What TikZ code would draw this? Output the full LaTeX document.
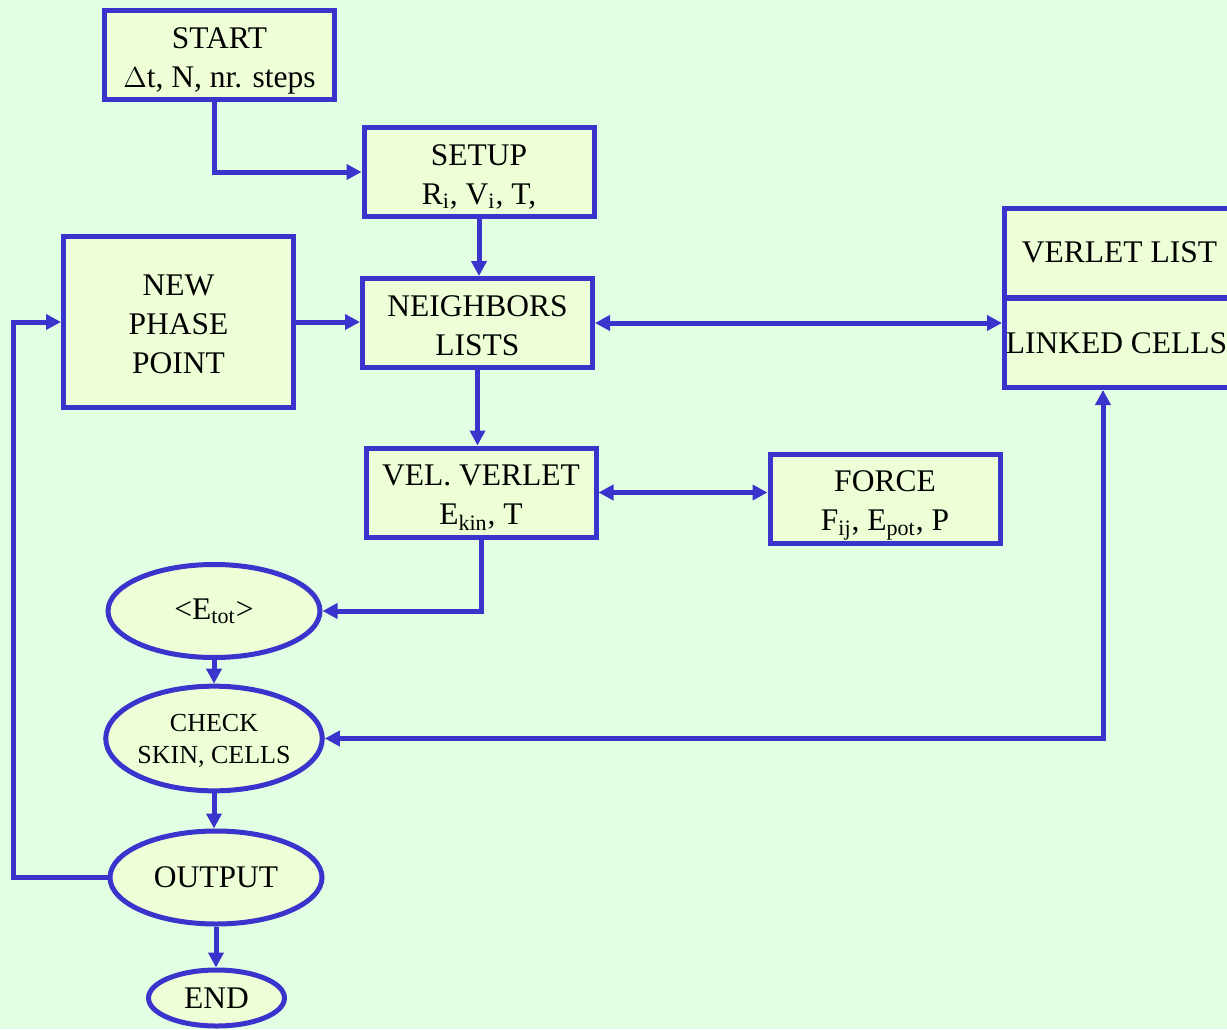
\documentclass[tikz,border=0pt]{standalone}
\usepackage{fontspec}
\setmainfont{Liberation Serif}
\usetikzlibrary{arrows.meta, shapes.geometric}

\definecolor{bgmint}{HTML}{E3FFE3}
\definecolor{boxfill}{HTML}{EEFFD8}
\definecolor{flowblue}{HTML}{3A33CC}
\newcommand{\lowidx}[1]{\textsubscript{#1}}
% struts to even out stacked lines
\newcommand{\topstrut}[1][18.8pt]{\rule{0pt}{#1}}
\newcommand{\botstrut}{\rule[-6pt]{0pt}{0pt}}

\begin{document}
\begin{tikzpicture}[
    x=0.5pt, y=-0.5pt,
    font=\fontsize{15.75}{19.5}\selectfont,
    % Box Styles
    box/.style={
        rectangle, draw=flowblue, fill=boxfill, line width=2.5pt,
        minimum width=115pt, minimum height=44.5pt, inner sep=0pt, align=center
    },
    oval/.style={
        ellipse, draw=flowblue, fill=boxfill, line width=2.5pt,
        minimum width=106pt, minimum height=46.5pt, inner sep=0pt, align=center
    },
    % Arrow Styles
    flow/.style={-{Triangle[length=7.5pt, width=7.5pt]}, line width=2.5pt, draw=flowblue},
    twoway/.style={{Triangle[length=7.5pt, width=7.5pt]}-{Triangle[length=7.5pt, width=7.5pt]}, line width=2.5pt, draw=flowblue}
]

    % --- PAGE ---
    \fill[bgmint] (0,0) rectangle (1227,1029);
    \useasboundingbox (0,0) rectangle (1227,1029);

    % --- BOXES ---
    \node[box] (start) at (219.5,55) {\topstrut START\\$\Delta$t, N, nr. steps\botstrut};
    \node[box] (setup) at (479,172) {\topstrut SETUP\\R\lowidx{i}, V\lowidx{i}, T,\botstrut};
    \node[box] (lists) at (477.5,323) {\topstrut NEIGHBORS\\LISTS\botstrut};
    \node[box, minimum height=85.5pt] (newpt) at (178.5,322) {\topstrut NEW\\PHASE\\POINT\botstrut};
    \node[box] (vel) at (481,492.5) {\topstrut VEL. VERLET\\E\lowidx{kin}, T\botstrut};
    \node[box] (force) at (885,498.5) {\topstrut FORCE\\F\lowidx{ij}, E\lowidx{pot}, P\botstrut};

    % Verlet list / linked cells (runs off the right edge)
    \node[box] (verlet) at (1119.5,252.5) {VERLET LIST};
    \node[box] (cells) at (1119.5,343) {LINKED CELLS\hspace{3pt}};

    % --- OVALS ---
    \node[oval] (etot) at (214,611) {<E\lowidx{tot}>};
    \node[oval, font=\fontsize{13}{16}\selectfont] (check) at (214,738.5) {\topstrut[15pt]CHECK\\SKIN, CELLS\botstrut};
    \node[oval] (output) at (216,877.5) {OUTPUT};
    \node[oval, minimum width=68pt, minimum height=28pt] (end) at (216.5,998) {END};

    \coordinate (loop) at (13,877.5);

    % --- ARROWS ---
    \draw[flow] ([xshift=-2.75pt]start.south) |- (setup.west);
    \draw[flow] (setup.south) -- (setup.south |- lists.north);
    \draw[flow] (newpt.east) -- (newpt.east -| lists.west);
    \draw[twoway] (lists.east) -- (lists.east -| cells.west);
    \draw[flow] (lists.south) -- (lists.south |- vel.north);
    \draw[twoway] (vel.east) -- (vel.east -| force.west);
    \draw[flow] (vel.south) |- (etot.east);
    \draw[flow] (etot.south) -- (check.north);
    \draw[twoway] (check.east) -| ([xshift=-8.25pt]cells.south);
    \draw[flow] (check.south) -- (check.south |- output.north);
    \draw[flow] (output.south) -- (output.south |- end.north);

    % Loop back
    \draw[flow] (output.west) -- (loop) |- (newpt.west);

\end{tikzpicture}
\end{document}
